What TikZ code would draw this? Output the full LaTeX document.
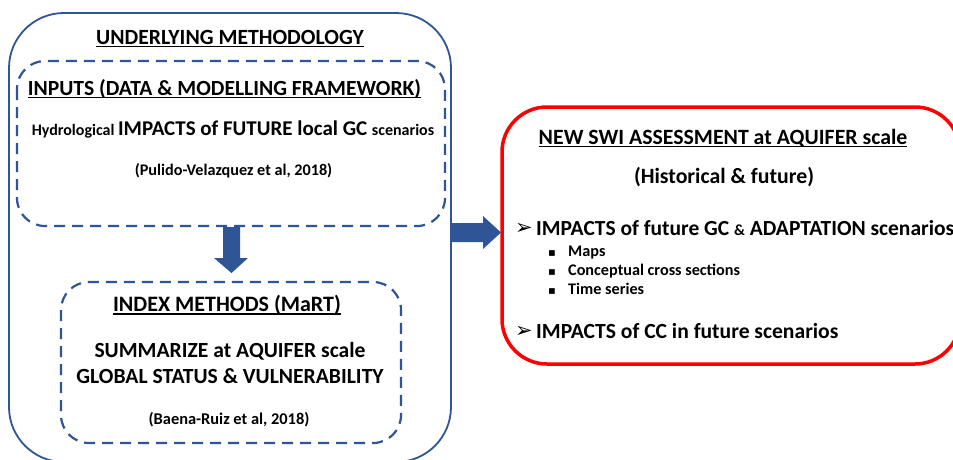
\documentclass[tikz,border=0pt]{standalone}
\usepackage{fontspec}
\usetikzlibrary{calc}
\setmainfont{Carlito}
\newfontfamily\symfont{DejaVu Sans}
\definecolor{frameblue}{HTML}{2F5597}
\definecolor{framered}{HTML}{FF0000}
% underline drawn as a rule below the baseline
\newcommand\ulin[1]{\leavevmode\setbox0\hbox{#1}\rlap{\rule[-3.2pt]{\wd0}{1.3pt}}\box0}
\newcommand\fs[1]{\fontsize{#1}{#1}\selectfont}
\tikzset{
  outerframe/.style={draw=frameblue, line width=1.8pt, rounded corners=55pt},
  dashframe/.style={draw=frameblue, line width=2.2pt, dash pattern=on 11pt off 7pt, rounded corners=28pt},
  redframe/.style={draw=framered, line width=3.5pt, rounded corners=45pt},
  blockarrow/.style={fill=frameblue, draw=none},
  txt/.style={anchor=base, inner sep=0pt, font=\bfseries},
  ltxt/.style={anchor=base west, inner sep=0pt, font=\bfseries},
}
\begin{document}
\begin{tikzpicture}[x=1pt,y=-1pt]
\useasboundingbox (0,0) rectangle (953,459);
\clip (0,0) rectangle (953,459);
\fill[white] (0,0) rectangle (953,459);

% frames
\draw[outerframe] (9,13) rectangle (451,462);
\draw[dashframe] (17,61) rectangle (445,226);
\draw[dashframe] (61,282) rectangle (401,443);
\draw[redframe] (502,107) rectangle (960,364);

% block arrows
\coordinate (inputsbottom) at (231.5,226);
\coordinate (outerright) at (451,232.5);
\fill[blockarrow] ($(inputsbottom)+(-8.5,1)$) -- ++(17,0) -- ++(0,31) -- ++(8,0)
   -- (231.5,273) -- (214,258) -- (223,258) -- cycle;
\fill[blockarrow] ($(outerright)+(0,-9.5)$) -- (483,223) -- (483,216) -- (501,232.5)
   -- (483,249) -- (483,242) -- (451,242) -- cycle;

% left column texts
\node[txt] (t1) at (230,44) {\fs{21.7}\ulin{UNDERLYING METHODOLOGY}};
\node[txt] (t2) at (224.5,95) {\fs{21.6}\ulin{INPUTS (DATA \& MODELLING FRAMEWORK)}};
\node[txt] (t3) at (233,135) {\fs{16}Hydrological \fs{21}IMPACTS of FUTURE local GC \fs{16}scenarios};
\node[txt] (t4) at (233.5,175) {\fs{16.2}(Pulido-Velazquez et al, 2018)};
\node[txt] (t5) at (227,311.5) {\fs{22}\ulin{INDEX METHODS (MaRT)}};
\node[txt] (t6) at (230,357) {\fs{21.6}SUMMARIZE at AQUIFER scale};
\node[txt] (t7) at (230,383) {\fs{21.6}GLOBAL STATUS \& VULNERABILITY};
\node[txt] (t8) at (229,424) {\fs{16.4}(Baena-Ruiz et al, 2018)};

% right box texts
\node[txt] (r1) at (723,144) {\fs{21.8}\ulin{NEW SWI ASSESSMENT at AQUIFER scale}};
\node[txt] (r2) at (724,183) {\fs{21.8}(Historical \& future)};
\node[ltxt] (b1) at (515,234) {\fs{21}\symfont\char"27A2};
\node[ltxt] (r3) at (536,235) {\fs{21.5}IMPACTS of future GC \fs{15.5}\&\fs{21.5} ADAPTATION scenarios};
\node[ltxt] (s1) at (548,256) {\fs{11.5}\symfont\char"25AA};
\node[ltxt] (r4) at (568,256) {\fs{16.2}Maps};
\node[ltxt] (s2) at (548,275) {\fs{11.5}\symfont\char"25AA};
\node[ltxt] (r5) at (568,275) {\fs{16.2}Conceptual cross sections};
\node[ltxt] (s3) at (548,294) {\fs{11.5}\symfont\char"25AA};
\node[ltxt] (r6) at (568,294) {\fs{16.2}Time series};
\node[ltxt] (b2) at (515,337) {\fs{21}\symfont\char"27A2};
\node[ltxt] (r7) at (536,338) {\fs{21.6}IMPACTS of CC in future scenarios};
\end{tikzpicture}
\end{document}
